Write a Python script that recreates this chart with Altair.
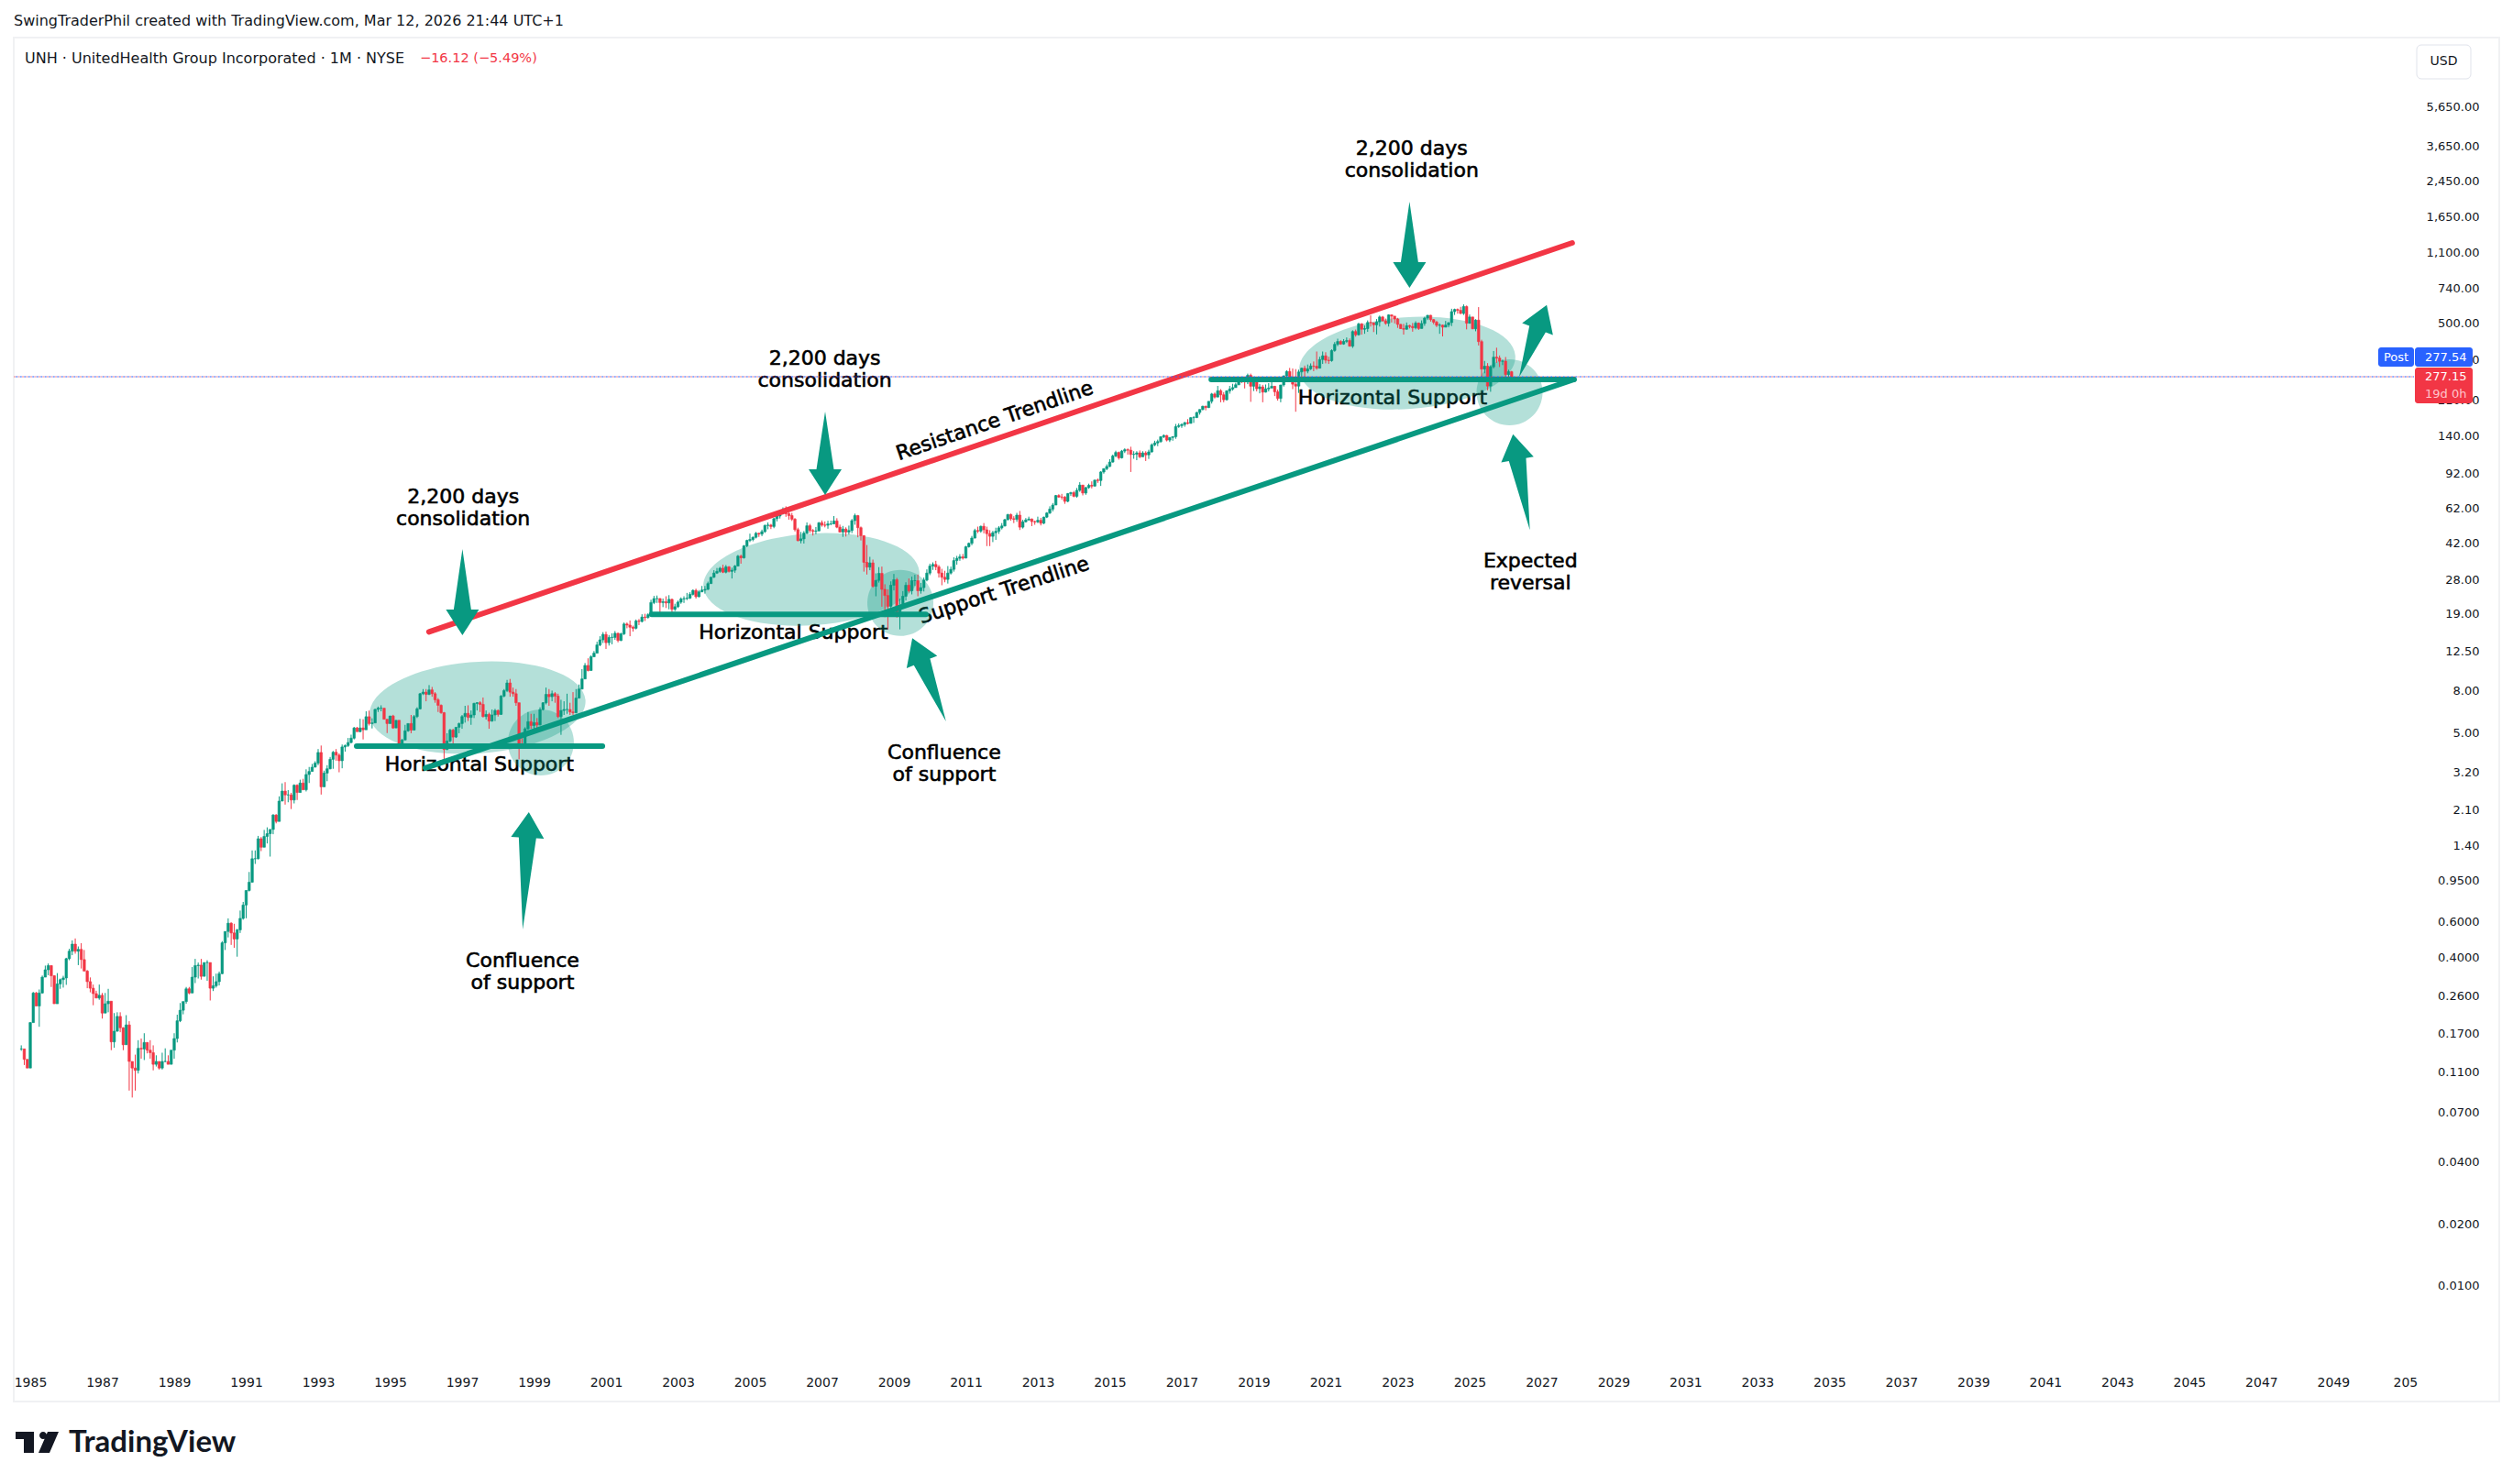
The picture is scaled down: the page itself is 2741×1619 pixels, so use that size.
import pandas as pd
import altair as alt

GREEN = "#089981"
RED = "#f23645"
BLUE = "#2962ff"
INK = "#131722"
FONT = "DejaVu Sans"

first_open = 0.145

closes = [
    0.145, 0.129, 0.117,
    0.195, 0.272, 0.235, 0.272, 0.325, 0.353, 0.370, 0.330, 0.241, 0.301, 0.316, 0.322,
    0.400, 0.435, 0.471, 0.435, 0.444, 0.396, 0.348, 0.309, 0.287, 0.270, 0.257, 0.265,
    0.217, 0.241, 0.248, 0.157, 0.177, 0.209, 0.184, 0.152, 0.190, 0.126, 0.117, 0.114,
    0.146, 0.145, 0.156, 0.143, 0.139, 0.122, 0.126, 0.117, 0.126, 0.126, 0.122, 0.143,
    0.163, 0.199, 0.224, 0.247, 0.285, 0.272, 0.325, 0.370, 0.372, 0.328, 0.383, 0.383,
    0.287, 0.295, 0.309, 0.338, 0.478, 0.543, 0.596, 0.534, 0.499, 0.553, 0.629, 0.731,
    0.861, 0.945, 1.23, 1.23, 1.54, 1.40, 1.58, 1.63, 1.71, 2.01, 1.87, 2.35,
    2.63, 2.52, 2.52, 2.38, 2.81, 2.59, 2.88, 2.67, 3.17, 3.28, 3.44, 3.60,
    4.06, 2.76, 3.22, 3.38, 3.76, 4.07, 3.94, 3.70, 4.32, 4.39, 4.54, 4.77,
    5.35, 5.13, 5.35, 5.24, 6.07, 5.62, 5.66, 6.59, 6.68, 6.68, 5.90, 5.62,
    6.12, 5.35, 5.83, 4.50, 4.67, 5.18, 5.62, 5.22, 6.08, 6.63, 7.86, 8.00,
    7.80, 8.20, 7.86, 7.34, 6.90, 6.35, 4.20, 4.62, 5.22, 4.83, 5.39, 5.62,
    6.08, 6.30, 6.02, 6.19, 7.05, 7.10, 6.97, 6.08, 6.23, 5.78, 6.19, 6.51,
    6.23, 7.65, 8.14, 8.87, 8.00, 7.86, 7.10, 4.46, 4.39, 5.30, 5.74, 5.50,
    5.68, 5.54, 6.58, 7.10, 7.80, 7.60, 7.86, 7.65, 6.08, 6.51, 6.58, 6.58,
    6.40, 6.35, 7.48, 8.28, 9.28, 10.8, 10.2, 11.9, 12.4, 13.6, 14.4, 15.3,
    13.95, 14.8, 14.8, 15.5, 14.3, 15.4, 17.2, 17.0, 16.6, 16.4, 17.8, 17.7,
    18.6, 18.5, 19.1, 21.9, 22.9, 22.9, 21.9, 22.1, 21.8, 22.7, 20.3, 20.9,
    22.0, 22.8, 22.9, 23.0, 24.0, 25.1, 23.4, 24.7, 25.2, 25.4, 27.1, 29.1,
    30.5, 31.1, 32.2, 30.8, 32.7, 31.1, 31.5, 33.0, 36.9, 36.2, 41.4, 44.0,
    44.5, 45.6, 47.7, 47.3, 48.6, 52.1, 52.3, 51.5, 56.2, 57.9, 59.9, 62.1,
    59.4, 58.2, 55.9, 49.7, 43.9, 44.8, 47.8, 51.9, 49.2, 48.8, 49.0, 53.7,
    52.3, 52.2, 53.0, 53.0, 54.8, 51.1, 48.4, 50.0, 48.4, 49.2, 55.0, 58.2,
    50.8, 46.4, 34.4, 32.6, 34.2, 26.3, 28.1, 30.4, 25.4, 23.7, 21.0, 26.6,
    28.3, 19.7, 20.9, 23.5, 26.6, 25.0, 28.0, 28.0, 25.0, 25.9, 28.2, 30.5,
    33.0, 33.6, 32.7, 30.5, 29.1, 28.4, 30.5, 31.8, 35.1, 36.0, 36.6, 36.1,
    41.0, 42.6, 45.2, 49.2, 48.9, 51.6, 49.6, 47.5, 46.1, 48.0, 48.8, 50.7,
    51.8, 55.6, 58.9, 56.2, 55.8, 58.5, 51.1, 54.3, 55.4, 56.0, 54.4, 54.2,
    55.2, 53.4, 57.2, 59.9, 62.6, 65.5, 72.9, 71.7, 71.6, 68.3, 74.5, 75.3,
    72.3, 77.3, 82.0, 75.0, 79.7, 81.8, 81.1, 86.7, 86.3, 95.0, 98.6, 101.1,
    106.2, 113.7, 118.3, 111.4, 120.2, 122.0, 121.4, 115.7, 116.0, 117.8, 112.7, 117.6,
    115.2, 119.1, 128.9, 131.7, 133.7, 141.2, 143.2, 136.0, 140.0, 141.3, 158.3, 160.0,
    162.0, 165.4, 164.0, 174.9, 175.2, 185.4, 191.8, 198.9, 195.9, 210.2, 228.2, 220.5,
    236.8, 226.2, 214.0, 236.4, 241.5, 245.3, 253.2, 268.5, 266.0, 261.4, 281.4, 249.1,
    270.2, 242.2, 247.3, 233.1, 241.8, 244.0, 249.0, 234.0, 217.3, 252.7, 279.9, 294.0,
    272.5, 254.9, 249.4, 292.5, 304.9, 295.0, 302.8, 312.6, 311.8, 305.1, 336.3, 350.7,
    333.6, 332.2, 372.1, 398.8, 411.9, 400.4, 412.2, 416.3, 390.7, 460.5, 444.2, 502.1,
    472.6, 475.9, 510.0, 508.6, 496.8, 513.6, 542.4, 519.3, 505.0, 555.2, 547.7, 530.2,
    499.2, 476.0, 472.6, 492.1, 487.3, 480.7, 506.4, 476.6, 504.2, 535.6, 553.0, 526.5,
    511.7, 493.6, 494.7, 483.7, 495.4, 509.3, 576.2, 590.2, 584.7, 564.5, 610.2, 505.9,
    542.5, 475.0, 523.8, 411.4, 301.9, 312.0, 249.6, 309.9, 345.3, 341.7, 329.8, 330.1,
    284.0, 293.27, 277.15,
]

highs = [
    0.151, 0.143, 0.126,
    0.196, 0.275, 0.275, 0.283, 0.331, 0.370, 0.379, 0.372, 0.332, 0.340, 0.320, 0.330,
    0.404, 0.447, 0.491, 0.502, 0.459, 0.476, 0.441, 0.352, 0.324, 0.299, 0.279, 0.299,
    0.272, 0.272, 0.285, 0.248, 0.217, 0.219, 0.219, 0.185, 0.212, 0.198, 0.126, 0.136,
    0.160, 0.163, 0.173, 0.156, 0.160, 0.151, 0.135, 0.126, 0.139, 0.146, 0.135, 0.143,
    0.173, 0.213, 0.243, 0.247, 0.291, 0.291, 0.364, 0.399, 0.383, 0.399, 0.383, 0.393,
    0.383, 0.328, 0.338, 0.346, 0.487, 0.543, 0.629, 0.602, 0.592, 0.559, 0.687, 0.757,
    0.861, 1.06, 1.35, 1.35, 1.59, 1.57, 1.70, 1.75, 1.71, 2.03, 2.03, 2.48,
    2.87, 2.91, 2.66, 2.58, 2.84, 2.84, 2.99, 3.02, 3.36, 3.45, 3.57, 3.68,
    4.22, 4.39, 3.31, 3.52, 3.86, 4.13, 4.22, 4.02, 4.44, 4.44, 4.78, 4.96,
    5.41, 5.41, 5.93, 5.90, 6.45, 6.50, 5.96, 6.63, 6.80, 6.90, 6.63, 5.85,
    6.12, 6.20, 5.83, 5.83, 4.73, 5.54, 5.62, 6.19, 6.19, 6.75, 7.93, 8.28,
    8.28, 8.66, 8.48, 8.00, 7.48, 6.97, 6.40, 5.04, 5.30, 5.30, 5.39, 5.68,
    6.19, 6.86, 6.90, 6.51, 7.10, 7.15, 7.22, 7.53, 6.51, 6.35, 6.58, 6.63,
    6.58, 7.74, 8.28, 9.18, 9.28, 8.42, 8.28, 7.10, 5.04, 5.39, 6.40, 6.27,
    6.27, 5.98, 6.75, 7.15, 8.42, 8.28, 8.14, 8.00, 7.86, 7.34, 7.22, 7.86,
    7.10, 8.00, 8.28, 8.72, 10.36, 11.1, 11.7, 12.1, 12.7, 14.1, 15.0, 15.7,
    15.8, 15.2, 15.5, 15.9, 15.6, 15.6, 17.5, 17.5, 17.9, 16.9, 18.1, 18.2,
    19.2, 19.3, 19.4, 22.6, 23.6, 23.7, 23.0, 22.9, 23.5, 23.8, 22.9, 21.6,
    22.4, 23.2, 23.5, 24.4, 24.6, 25.4, 25.6, 25.2, 26.4, 26.4, 27.7, 29.2,
    31.5, 32.3, 32.7, 33.5, 33.4, 33.0, 32.4, 33.4, 37.4, 37.5, 41.8, 44.4,
    47.5, 46.0, 48.4, 48.0, 49.7, 52.6, 53.9, 53.0, 56.7, 59.1, 60.2, 63.8,
    64.6, 60.7, 60.0, 56.6, 50.8, 48.4, 48.9, 53.9, 53.0, 50.0, 51.2, 54.1,
    55.1, 54.5, 54.9, 55.0, 57.9, 56.5, 52.6, 51.8, 51.0, 52.0, 56.0, 59.5,
    58.6, 51.5, 46.7, 41.8, 36.6, 35.5, 30.4, 32.6, 32.8, 26.9, 25.4, 27.8,
    30.2, 28.9, 22.9, 24.9, 27.5, 28.7, 29.3, 29.9, 30.0, 27.3, 29.0, 31.8,
    33.9, 34.4, 35.0, 33.4, 32.0, 31.3, 33.0, 32.8, 36.4, 37.0, 37.7, 37.8,
    41.4, 43.0, 46.3, 50.2, 51.4, 52.0, 53.5, 51.4, 49.4, 49.0, 50.8, 51.7,
    53.5, 56.1, 59.3, 59.5, 57.8, 60.0, 61.3, 55.5, 56.6, 57.5, 56.3, 55.0,
    57.5, 56.7, 57.5, 60.5, 64.6, 67.0, 73.4, 74.0, 74.3, 72.5, 75.0, 76.0,
    76.7, 79.4, 84.7, 82.0, 80.5, 83.3, 85.5, 87.1, 88.3, 95.9, 99.0, 103.5,
    109.7, 115.5, 120.7, 119.5, 121.7, 124.0, 123.8, 126.2, 120.0, 120.0, 121.0, 120.0,
    120.0, 122.0, 131.0, 135.0, 136.7, 142.0, 145.0, 144.0, 140.5, 142.0, 163.0, 164.0,
    164.0, 167.0, 172.0, 176.0, 178.0, 187.0, 192.0, 200.0, 200.0, 210.0, 231.0, 232.0,
    250.0, 241.0, 233.0, 238.0, 250.0, 256.0, 259.0, 270.0, 272.0, 272.0, 287.0, 287.0,
    271.0, 275.0, 255.0, 253.0, 254.0, 258.0, 266.0, 250.0, 240.0, 253.0, 281.0, 298.0,
    306.0, 304.0, 302.0, 300.0, 307.0, 314.0, 318.0, 322.0, 329.0, 368.0, 347.0, 368.0,
    365.0, 347.0, 377.0, 409.0, 425.0, 418.0, 423.0, 431.0, 426.0, 467.0, 471.0, 508.0,
    506.0, 493.0, 522.0, 553.0, 503.0, 530.0, 551.0, 549.0, 533.0, 559.0, 558.0, 547.0,
    537.0, 501.0, 502.0, 510.0, 497.0, 507.0, 517.0, 510.0, 522.0, 544.0, 554.0, 555.0,
    530.0, 520.0, 505.0, 498.0, 519.0, 510.0, 595.0, 596.0, 597.0, 608.0, 625.0, 617.0,
    558.0, 512.0, 529.0, 606.0, 420.0, 331.0, 323.0, 315.0, 370.0, 384.0, 352.0, 336.0,
    346.0, 300.0, 296.0,
]

lows = [
    0.142, 0.121, 0.117,
    0.121, 0.195, 0.235, 0.186, 0.270, 0.332, 0.332, 0.291, 0.241, 0.241, 0.285, 0.289,
    0.298, 0.393, 0.416, 0.423, 0.372, 0.358, 0.348, 0.287, 0.274, 0.237, 0.257, 0.252,
    0.204, 0.217, 0.219, 0.143, 0.147, 0.176, 0.175, 0.143, 0.152, 0.0908, 0.0840, 0.0908,
    0.110, 0.130, 0.128, 0.138, 0.130, 0.114, 0.119, 0.115, 0.115, 0.125, 0.122, 0.122,
    0.130, 0.156, 0.196, 0.214, 0.241, 0.268, 0.272, 0.304, 0.320, 0.316, 0.328, 0.312,
    0.250, 0.278, 0.289, 0.296, 0.336, 0.441, 0.508, 0.467, 0.452, 0.409, 0.534, 0.620,
    0.630, 0.851, 0.94, 1.16, 1.22, 1.34, 1.40, 1.46, 1.26, 1.62, 1.83, 1.87,
    2.35, 2.26, 2.32, 2.15, 2.29, 2.38, 2.59, 2.67, 2.62, 2.88, 3.28, 3.44,
    3.52, 2.53, 2.76, 2.94, 3.36, 3.38, 3.70, 3.25, 3.40, 4.10, 4.32, 4.50,
    4.70, 5.13, 5.10, 4.70, 5.30, 5.50, 5.32, 5.70, 6.40, 6.45, 5.90, 5.05,
    5.62, 5.30, 5.35, 4.48, 4.46, 4.67, 5.12, 5.04, 5.22, 5.98, 6.58, 7.74,
    7.22, 7.74, 7.60, 7.10, 6.40, 6.27, 3.76, 4.17, 4.54, 4.39, 4.78, 5.04,
    5.30, 5.68, 5.78, 5.54, 5.98, 6.51, 6.40, 6.02, 5.88, 5.30, 5.74, 5.78,
    6.08, 6.19, 7.55, 8.00, 7.60, 7.60, 6.86, 3.76, 4.32, 4.24, 5.22, 5.30,
    5.30, 5.12, 5.50, 6.51, 6.97, 6.86, 7.22, 7.10, 5.98, 4.95, 6.19, 6.27,
    6.19, 6.19, 6.30, 7.48, 8.28, 9.28, 10.1, 10.2, 11.9, 12.4, 13.4, 13.9,
    13.0, 13.5, 13.7, 14.4, 14.0, 14.2, 15.2, 16.4, 15.0, 15.8, 16.2, 17.0,
    17.5, 17.8, 18.3, 18.9, 21.5, 21.8, 19.6, 20.8, 20.6, 20.3, 19.6, 19.9,
    20.6, 21.6, 21.8, 22.5, 22.8, 23.7, 22.9, 23.2, 24.6, 24.2, 25.2, 27.0,
    28.9, 30.2, 30.6, 30.5, 30.4, 30.7, 28.7, 30.6, 33.0, 33.9, 35.9, 40.8,
    43.2, 43.6, 45.0, 45.8, 46.2, 47.9, 49.9, 50.0, 50.5, 54.5, 56.3, 58.9,
    57.4, 55.6, 54.8, 48.7, 43.6, 42.6, 42.5, 47.2, 48.0, 46.5, 47.2, 48.8,
    51.4, 51.0, 50.2, 52.2, 53.0, 50.5, 48.1, 45.8, 46.0, 47.0, 47.8, 52.5,
    45.6, 44.0, 31.0, 30.0, 31.5, 25.9, 23.5, 27.4, 20.9, 18.6, 16.2, 19.5,
    25.1, 18.5, 16.2, 20.7, 22.4, 24.5, 24.0, 26.4, 23.5, 24.2, 24.8, 27.8,
    29.8, 31.6, 31.5, 29.0, 26.6, 27.5, 27.1, 30.0, 31.0, 33.5, 35.0, 35.5,
    36.0, 40.6, 41.7, 45.0, 47.8, 48.0, 47.7, 41.3, 41.3, 43.2, 44.3, 47.4,
    49.8, 51.5, 55.1, 55.0, 53.5, 54.3, 49.5, 50.3, 53.8, 55.0, 51.7, 52.5,
    53.5, 52.1, 52.9, 56.6, 59.3, 61.0, 65.5, 71.1, 69.7, 66.4, 67.6, 72.7,
    71.5, 71.2, 76.0, 73.0, 73.5, 78.6, 79.0, 80.5, 84.0, 81.2, 93.2, 96.9,
    100.3, 105.6, 112.2, 109.1, 110.5, 117.6, 115.5, 95.0, 110.2, 108.5, 111.0, 114.0,
    107.5, 110.0, 118.0, 127.0, 127.0, 132.0, 139.0, 134.0, 133.0, 135.0, 138.0, 156.0,
    156.0, 158.0, 162.0, 164.0, 165.0, 174.0, 181.0, 190.0, 190.0, 195.0, 205.0, 217.0,
    223.0, 208.0, 208.0, 212.0, 229.0, 237.0, 245.0, 252.0, 258.0, 243.0, 255.0, 209.0,
    236.0, 235.0, 230.0, 208.0, 232.0, 235.0, 244.0, 223.0, 212.0, 208.0, 248.0, 272.0,
    266.0, 241.0, 187.0, 231.0, 273.0, 277.0, 288.0, 299.0, 295.0, 300.0, 304.0, 320.0,
    322.0, 320.0, 328.0, 367.0, 391.0, 397.0, 397.0, 405.0, 389.0, 383.0, 435.0, 440.0,
    445.0, 449.0, 459.0, 487.0, 458.0, 446.0, 487.0, 515.0, 497.0, 487.0, 510.0, 505.0,
    480.0, 474.0, 445.0, 470.0, 477.0, 460.0, 472.0, 469.0, 478.0, 491.0, 524.0, 515.0,
    500.0, 484.0, 449.0, 436.0, 484.0, 483.0, 490.0, 555.0, 563.0, 560.0, 555.0, 472.0,
    503.0, 473.0, 462.0, 394.0, 274.0, 288.0, 238.0, 234.0, 304.0, 324.0, 309.0, 316.0,
    273.0, 275.0, 276.0,
]

y_ticks = [5650, 3650, 2450, 1650, 1100, 740, 500, 330, 210, 140, 92, 62, 42, 28, 19, 12.5,
           8, 5, 3.2, 2.1, 1.4, 0.95, 0.6, 0.4, 0.26, 0.17, 0.11, 0.07, 0.04, 0.02, 0.01]
x_ticks = list(range(1985, 2052, 2))

# trendlines and horizontal supports, in years and dollars
line_names = ["resistance", "resistance", "support", "support", "h1", "h1", "h2", "h2", "h3", "h3"]
line_years = [1996.08, 2027.85, 1995.98, 2027.9, 1994.07, 2000.9, 2002.27, 2009.89, 2017.82, 2027.9]
line_prices = [15.76, 1247, 3.41, 268.8, 4.36, 4.36, 19.2, 19.2, 268.8, 268.8]
line_colors = [RED, RED, GREEN, GREEN, GREEN, GREEN, GREEN, GREEN, GREEN, GREEN]

# consolidation zones
zone_years = [1997.43, 1999.19, 2006.71, 2009.18, 2023.27, 2026.11]
zone_prices = [6.72, 4.54, 28.4, 21.8, 323, 232.6]
zone_rx = [118, 36, 118, 36, 118, 36]
zone_ry = [50, 36, 50, 36, 50, 36]
zone_rot = [356, 0, 356, 0, 356, 0]

# arrows
arrow_years = [1998.77, 1997.01, 2007.09, 2023.33, 2009.98, 2026.44, 2026.76]
arrow_prices = [1.074, 24.6, 117.3, 1222, 9.19, 84.8, 414]
arrow_len = [128, 94, 91, 94, 98, 106, 84]
arrow_rot = [3, 180, 180, 180, 338, 350, 21]

# labels on the chart
note_texts = ["2,200 days\nconsolidation", "2,200 days\nconsolidation", "2,200 days\nconsolidation",
              "Confluence\nof support", "Confluence\nof support", "Expected\nreversal"]
note_years = [1997.03, 2007.08, 2023.39, 1998.68, 2010.40, 2026.69]
note_prices = [63.8, 299.5, 3201, 0.346, 3.586, 31.04]

support_texts = ["Horizontal Support", "Horizontal Support", "Horizontal Support"]
support_years = [1997.48, 2006.21, 2022.86]
support_prices = [3.55, 15.65, 218.7]

slant_texts = ["Resistance Trendline", "Support Trendline"]
slant_years = [2011.80, 2012.06]
slant_prices = [169.0, 25.13]
slant_rot = [341, 342]


def ellipse_path(rx, ry):
    return f"M{-rx},0A{rx},{ry} 0 1 1 {rx},0A{rx},{ry} 0 1 1 {-rx},0Z"


def arrow_path(length, head_len=28, head_w=36, shaft_w=19):
    top = -length / 2
    neck = top + head_len
    return (f"M0,{top}L{head_w / 2},{neck}L{shaft_w / 2},{neck}L0,{length / 2}"
            f"L{-shaft_w / 2},{neck}L{-head_w / 2},{neck}Z")


opens = [first_open] + closes[:-1]
candles = pd.DataFrame({"open": opens, "high": highs, "low": lows, "close": closes})
candles["year"] = [1984.75 + i / 12 for i in range(len(candles))]
candles["high"] = candles[["open", "high", "close"]].max(axis=1)
candles["low"] = candles[["open", "low", "close"]].min(axis=1)
candles["dir"] = ["up" if c >= o else "down" for o, c in zip(opens, closes)]

lines = pd.DataFrame({"name": line_names, "year": line_years, "price": line_prices, "color": line_colors})
zones = pd.DataFrame({"year": zone_years, "price": zone_prices, "rot": zone_rot,
                      "path": [ellipse_path(a, b) for a, b in zip(zone_rx, zone_ry)]})
arrows = pd.DataFrame({"year": arrow_years, "price": arrow_prices, "rot": arrow_rot,
                       "path": [arrow_path(n) for n in arrow_len]})
notes = pd.DataFrame({"year": note_years, "price": note_prices, "text": note_texts})
supports = pd.DataFrame({"year": support_years, "price": support_prices, "text": support_texts})
slants = pd.DataFrame({"year": slant_years, "price": slant_prices, "text": slant_texts, "rot": slant_rot})

# padding=0 matters: bars on a continuous x would otherwise pull the range in by 5px a side
x_scale = alt.Scale(domain=[1984.541, 2051.27], nice=False, zero=False, padding=0)
y_scale = alt.Scale(type="log", domain=[0.00412, 12539], nice=False)

x_axis = alt.Axis(values=x_ticks, title=None, grid=False, ticks=False, domain=False, labelOverlap=False,
                  labelExpr="datum.value == 2051 ? '205' : format(datum.value, 'd')", labelFlush=False,
                  labelPadding=11, labelFontSize=14, labelColor=INK, labelFont=FONT)
y_axis = alt.Axis(values=y_ticks, orient="right", title=None, grid=False, ticks=False, domain=False,
                  labelOverlap=False, labelAlign="right", labelPadding=70, labelFontSize=13,
                  labelColor=INK, labelFont=FONT, labelFlush=False, labelOffset=-1.5,
                  labelExpr="datum.value >= 1 ? format(datum.value, ',.2f') : format(datum.value, '.4f')")


def X(field="year"):
    return alt.X(f"{field}:Q", scale=x_scale, axis=x_axis, title=None)


def Y(field="price"):
    return alt.Y(f"{field}:Q", scale=y_scale, axis=y_axis, title=None)


dir_scale = alt.Scale(domain=["up", "down"], range=[GREEN, RED])

wicks = alt.Chart(candles).mark_rule(strokeWidth=1).encode(
    x=X(),
    y=Y("low"),
    y2="high:Q",
    color=alt.Color("dir:N", scale=dir_scale, legend=None),
)
bodies = alt.Chart(candles).mark_bar(size=2.6, strokeWidth=0.6).encode(
    x=X(),
    y=Y("open"),
    y2="close:Q",
    color=alt.Color("dir:N", scale=dir_scale, legend=None),
    stroke=alt.Stroke("dir:N", scale=dir_scale, legend=None),
)

zone_layer = alt.Chart(zones).mark_point(filled=True, size=4, opacity=0.3, color=GREEN, strokeWidth=0).encode(
    x=X(), y=Y(),
    shape=alt.Shape("path:N", scale=None),
    angle=alt.Angle("rot:Q", scale=None),
)
arrow_layer = alt.Chart(arrows).mark_point(filled=True, size=4, opacity=1, color=GREEN, strokeWidth=0).encode(
    x=X(), y=Y(),
    shape=alt.Shape("path:N", scale=None),
    angle=alt.Angle("rot:Q", scale=None),
)
line_layer = alt.Chart(lines).mark_line(strokeWidth=6, strokeCap="round").encode(
    x=X(), y=Y(),
    detail="name:N",
    color=alt.Color("color:N", scale=None),
)
note_layer = alt.Chart(notes).mark_text(font=FONT, fontSize=22, color="#000000", stroke="#000000", strokeWidth=0.6,
                                        lineBreak="\n", lineHeight=24, align="center", baseline="middle", dy=-12).encode(
    x=X(), y=Y(), text="text:N",
)
support_layer = alt.Chart(supports).mark_text(font=FONT, fontSize=22, color="#000000", stroke="#000000", strokeWidth=0.6,
                                              align="center", baseline="middle").encode(
    x=X(), y=Y(), text="text:N",
)
slant_layer = alt.Chart(slants).mark_text(font=FONT, fontSize=22, color="#000000", stroke="#000000", strokeWidth=0.6,
                                          align="center", baseline="middle").encode(
    x=X(), y=Y(), text="text:N",
    angle=alt.Angle("rot:Q", scale=None),
)

red_price = alt.Chart(pd.DataFrame({"price": [277.15]})).mark_rule(
    strokeWidth=1, strokeDash=[2, 2.5], color=RED, opacity=0.6).encode(y=Y(), x=alt.value(0), x2=alt.value(2618))
blue_price = alt.Chart(pd.DataFrame({"price": [277.15]})).mark_rule(
    strokeWidth=1, strokeDash=[2, 2.5], strokeDashOffset=2.25, color=BLUE).encode(y=Y(), x=alt.value(0), x2=alt.value(2618))

# chart furniture, placed in pixels relative to the plot's top left corner
frame = alt.Chart(pd.DataFrame({"a": [1]})).mark_rect(fillOpacity=0, stroke="#f0f1f3", strokeWidth=2).encode(
    x=alt.value(0), x2=alt.value(2711), y=alt.value(0), y2=alt.value(1488))


def box(x0, x1, y0, y1, fill, stroke=None, radius=3):
    kw = {"stroke": stroke, "strokeWidth": 1} if stroke else {}
    return alt.Chart(pd.DataFrame({"a": [1]})).mark_rect(fill=fill, cornerRadius=radius, **kw).encode(
        x=alt.value(x0 - 15), x2=alt.value(x1 - 15), y=alt.value(y0 - 41), y2=alt.value(y1 - 41))


def label(text, x, y, size=13, color=INK, align="left", font=FONT, weight=400):
    return alt.Chart(pd.DataFrame({"t": [text]})).mark_text(
        font=font, fontSize=size, color=color, align=align, baseline="middle", fontWeight=weight).encode(
        x=alt.value(x - 15), y=alt.value(y - 41), text="t:N")


logo_path = ("M-23,-12H-3V11H-14V-4H-23Z"
             "M3,-8A4,4 0 1 1 11,-8A4,4 0 1 1 3,-8Z"
             "M12,-12H24L14,11H2Z")
logo = alt.Chart(pd.DataFrame({"a": [1]})).mark_point(filled=True, size=4, opacity=1, color=INK, strokeWidth=0,
                                                      shape=logo_path).encode(
    x=alt.value(40 - 15), y=alt.value(1574 - 41))

chart = alt.layer(
    frame,
    note_layer,
    support_layer,
    slant_layer,
    zone_layer,
    wicks,
    bodies,
    line_layer,
    arrow_layer,
    red_price,
    blue_price,
    box(2594, 2633, 379, 400, BLUE),
    box(2634, 2697, 379, 400, BLUE),
    box(2634, 2697, 401, 440, RED),
    label("Post", 2613.5, 390, color="white", align="center"),
    label("277.54", 2690.5, 390, color="white", align="right"),
    label("277.15", 2690.5, 411, color="white", align="right"),
    label("19d 0h", 2690.5, 430, color="#ffc4cb", align="right"),
    box(2636, 2695, 49, 86, "white", stroke="#e0e3eb", radius=5),
    label("USD", 2665.5, 67, size=14, align="center"),
    label("SwingTraderPhil created with TradingView.com, Mar 12, 2026 21:44 UTC+1", 15, 23, size=16),
    label("UNH · UnitedHealth Group Incorporated · 1M · NYSE", 27, 64, size=16),
    label("−16.12 (−5.49%)", 458, 64, size=14.5, color=RED),
    logo,
    label("TradingView", 75, 1574, size=33, font="Lato", weight=700),
).properties(
    width=2619,
    height=1449,
    padding={"left": 7, "top": 33, "right": 99, "bottom": 121},
    autosize=alt.AutoSizeParams(type="none"),
    background="white",
).configure_view(stroke=None)

chart.save("out.html", embed_options={"renderer": "svg", "actions": False})
